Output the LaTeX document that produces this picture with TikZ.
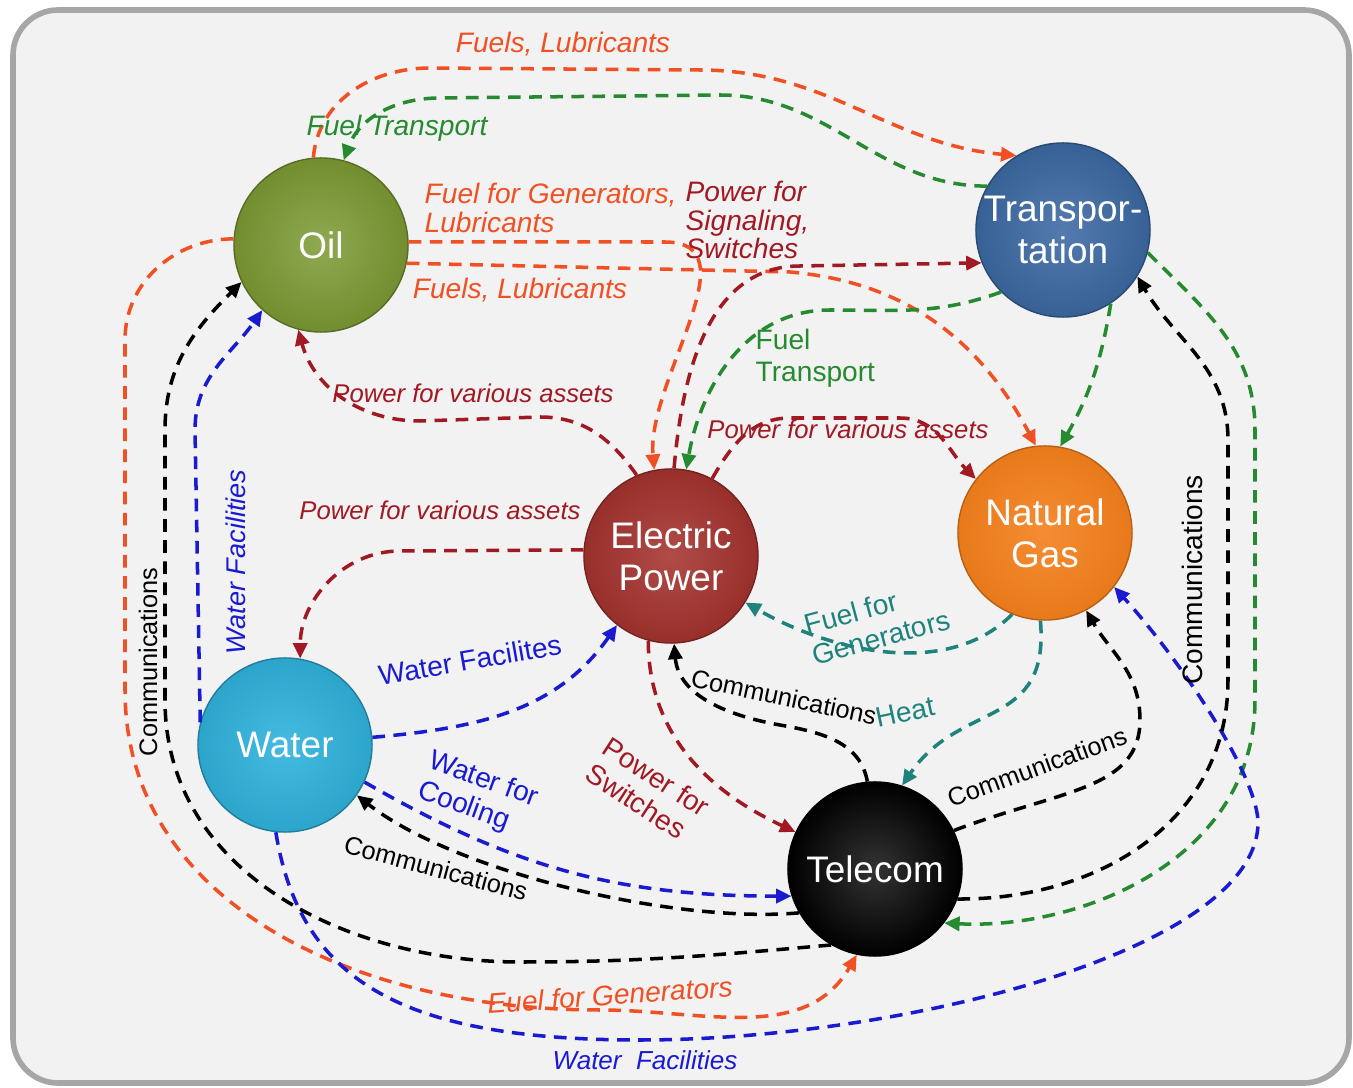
\documentclass[tikz,border=0pt]{standalone}
\usepackage{fontspec}
\setmainfont{Liberation Sans}
\usetikzlibrary{arrows.meta}

\definecolor{oilgrn}{HTML}{7C9A33}
\definecolor{trblue}{HTML}{3C69A3}
\definecolor{epred}{HTML}{A5332F}
\definecolor{gasorg}{HTML}{F4801C}
\definecolor{wtcyan}{HTML}{30B3DD}
\definecolor{orng}{HTML}{F05023}
\definecolor{dred}{HTML}{A01923}
\definecolor{grn}{HTML}{268A30}
\definecolor{tealc}{HTML}{1E827D}
\definecolor{blu}{HTML}{1A1AD0}

\begin{document}
\begin{tikzpicture}[x=0.01cm, y=-0.01cm,
    flow/.style={draw=#1, line width=1pt, dash pattern=on 3.6pt off 2.4pt,
      -{Triangle[length=4.4pt,width=4pt]}},
    lbl/.style={text=#1, font=\fontsize{8}{8}\selectfont\itshape},
    upr/.style={font=\fontsize{8}{9}\selectfont},
    small/.style={font=\fontsize{7.3}{8}\selectfont\itshape},
    comm/.style={font=\fontsize{7.2}{8}\selectfont}]

  \useasboundingbox (0,0) rectangle (1353,1088);
  \fill[white] (0,0) rectangle (1353,1088);
  \draw[line width=1.6pt, draw=gray!70, fill=gray!10, rounded corners=0.45cm]
    (13,10) rectangle (1349,1083);

  \begin{scope}[every node/.style={circle, minimum size=1.74cm, inner sep=0pt,
      shading=radial, text=white, align=center, font=\fontsize{10.5}{12}\selectfont}]
    \node[inner color=oilgrn!85!white, outer color=oilgrn!92!black, draw=oilgrn!70!black] (oil)   at (321,245)  {Oil};
    \node[inner color=trblue!88!white, outer color=trblue!92!black, draw=trblue!70!black] (trans) at (1063,230) {Transpor-\\tation};
    \node[inner color=epred!88!white,  outer color=epred!92!black,  draw=epred!70!black]  (power) at (671,556)  {Electric\\Power};
    \node[inner color=gasorg!90!white, outer color=gasorg!95!black, draw=gasorg!75!black] (gas)   at (1045,533) {Natural\\Gas};
    \node[inner color=wtcyan!90!white, outer color=wtcyan!92!black, draw=wtcyan!70!black] (water) at (285,745)  {Water};
    \node[inner color=black!80,        outer color=black,           draw=black]           (tel)   at (875,869)  {Telecom};
  \end{scope}

  % oil
  \draw[flow=orng] (oil.95) to[out=85,in=180] (430,68) -- (700,70) to[out=0,in=175] (trans.122);
  \draw[flow=orng] (oil.2) -- (665,242) to[out=0,in=95] (power.101);
  \draw[flow=orng] (oil.-12) -- (790,272) to[out=-5,in=118] (gas.96);
  \draw[flow=orng] (oil.176) to[out=180,in=90] (125,340) -- (125,690)
    .. controls (125,900) and (350,1010) .. (600,1010) to[out=0,in=-120] (tel.-102);

  % transportation
  \draw[flow=grn] (trans.150) to[out=180,in=0] (720,95) -- (440,98) to[out=180,in=70] (oil.75);
  \draw[flow=grn] (trans.225) to[out=200,in=0] (830,310) to[out=180,in=80] (power.80);
  \draw[flow=grn] (trans.-57) to[bend left=10] (gas.80);
  \draw[flow=grn] (trans.-15) to[out=-45,in=90] (1255,430) -- (1255,700)
    .. controls (1255,860) and (1080,930) .. (tel.-38);

  % electric power
  \draw[flow=dred] (power.88) to[out=85,in=180] (800,266) -- (trans.202);
  \draw[flow=dred] (power.113) to[out=125,in=0] (540,417) -- (420,421) to[out=180,in=-75] (oil.-105);
  \draw[flow=dred] (power.62) to[out=60,in=180] (790,418) -- (900,418) to[out=0,in=135] (gas.142);
  \draw[flow=dred] (power.176) -- (400,551) to[out=180,in=90] (water.80);
  \draw[flow=dred] (power.-105) to[out=-90,in=155] (tel.155);

  % water
  \draw[flow=blu] (water.5) to[out=5,in=-125] (power.-128);
  \draw[flow=blu] (water.-25) to[out=-30,in=180] (tel.198);
  \draw[flow=blu] (water.165) -- (195,430) to[out=90,in=-125] (oil.-132);
  \draw[flow=blu] (water.-96) .. controls (300,980) and (400,1040) .. (640,1040)
    .. controls (900,1040) and (1262,950) .. (1258,820)
    .. controls (1254,770) and (1180,660) .. (gas.-38);

  % natural gas
  \draw[flow=tealc] (gas.-112) to[out=-135,in=-30,looseness=0.9] (power.-32);
  \draw[flow=tealc] (gas.-93) .. controls (1050,730) and (960,700) .. (tel.72);

  % telecom
  \draw[flow=black] (tel.95) to[out=100,in=-10] (780,725) to[out=170,in=-85] (power.-88);
  \draw[flow=black] (tel.26) .. controls (1060,790) and (1140,790) .. (1140,720)
    to[out=90,in=-60] (gas.-62);
  \draw[flow=black] (tel.210) to[out=185,in=-38,looseness=0.7] (water.-35);
  \draw[flow=black] (tel.240) to[out=185,in=0] (520,962) to[out=180,in=-90] (165,700)
    -- (165,430) to[out=90,in=-135] (oil.205);
  \draw[flow=black] (tel.-20) .. controls (1100,900) and (1228,820) .. (1228,680)
    -- (1228,440) to[out=90,in=-60] (trans.-32);

  \begin{scope}[every node/.style={inner sep=0pt, align=left}]
    \node[lbl=orng] (fl1) at (563,44) {Fuels, Lubricants};
    \node[lbl=grn] (ft1) at (397,128) {Fuel Transport};
    \node[lbl=orng, anchor=west] (fg1) at (424,208) {Fuel for Generators,\\Lubricants};
    \node[lbl=dred, anchor=west] (ps1) at (685,220) {Power for\\Signaling,\\Switches};
    \node[lbl=orng] (fl2) at (520,290) {Fuels, Lubricants};
    \node[lbl=grn, upr, anchor=west] (ft2) at (755,358) {Fuel\\Transport};
    \node[lbl=dred, small] (pv1) at (473,393) {Power for various assets};
    \node[lbl=dred, small] (pv2) at (848,429) {Power for various assets};
    \node[lbl=dred, small] (pv3) at (440,510) {Power for various assets};
    \node[lbl=blu, upr, rotate=10] (wf1) at (470,660) {Water Facilites};
    \node[lbl=tealc, upr, rotate=15] (fg2) at (877,622) {Fuel for\\Generators};
    \node[lbl=tealc, upr, rotate=12] (ht) at (905,712) {Heat};
    \node[lbl=black, comm, rotate=-12] (cm1) at (784,697) {Communications};
    \node[lbl=black, comm, rotate=20] (cm2) at (1037,767) {Communications};
    \node[lbl=dred, upr, rotate=-33] (pw) at (648,790) {Power for\\Switches};
    \node[lbl=blu, upr, rotate=-20] (wc) at (478,795) {Water for\\Cooling};
    \node[lbl=black, comm, rotate=-15] (cm3) at (436,868) {Communications};
    \node[lbl=black, comm, rotate=90] (cm4) at (148,662) {Communications};
    \node[lbl=blu, rotate=90, font=\fontsize{7.7}{8}\selectfont\itshape] (wf2) at (236,562) {Water Facilities};
    \node[lbl=orng, rotate=4] (eg) at (610,995) {Euel for Generators};
    \node[lbl=blu, font=\fontsize{7.4}{8}\selectfont\itshape] (wf3) at (645,1060) {Water\ \ Facilities};
    \node[lbl=black, upr, rotate=90] (cm5) at (1192,580) {Communications};
  \end{scope}

\end{tikzpicture}
\end{document}
